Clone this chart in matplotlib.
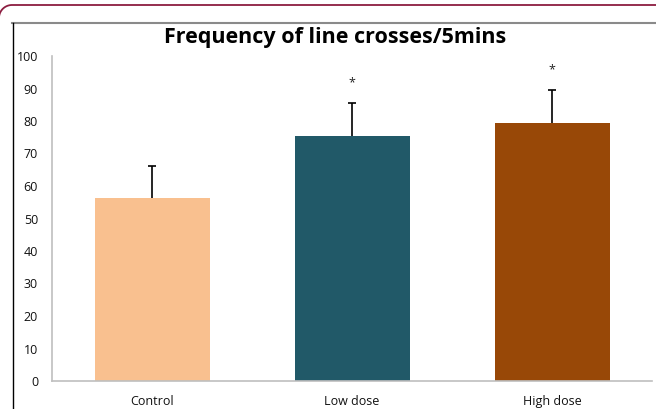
import matplotlib
matplotlib.use('Agg')
import numpy as np
import matplotlib.pyplot as plt
from matplotlib.lines import Line2D

# Line crosses per 5 minutes, mean and error for each group
groups = ['Control', 'Low dose', 'High dose']
means = [56.3, 75.4, 79.4]
errors = [10, 10, 10]
marks = ['', '*', '*']
colors = ['#F9C08F', '#215968', '#984807']

W, H = 656, 409
fig = plt.figure(figsize=(W / 100, H / 100), dpi=100)
plt.rcParams['font.family'] = ['Open Sans', 'DejaVu Sans']

def px(xs, ys):
    # pixel positions (from top-left) to figure fractions
    return [v / W for v in xs], [1 - v / H for v in ys]

# outer border: top edge with a rounded top-left corner running off the left side
t = np.linspace(np.pi, 1.5 * np.pi, 30)
r = 13
cx, cy = 12, 18
arc_x = list(cx + r * np.cos(t)) + [W + 5]
arc_y = list(cy + r * np.sin(t)) + [cy - r]
fx, fy = px(arc_x, arc_y)
fig.lines.append(Line2D(fx, fy, transform=fig.transFigure,
                        color='#8C1D40', lw=1.3))

# inner chart frame
fx, fy = px([12, W], [22.5, 22.5])
fig.lines.append(Line2D(fx, fy, transform=fig.transFigure, color='#8a8a8a', lw=1.5))
fx, fy = px([12.5, 12.5], [22.5, H])
fig.lines.append(Line2D(fx, fy, transform=fig.transFigure, color='black', lw=1))

ax = fig.add_axes([52 / W, (H - 381) / H, 600 / W, (381 - 56) / H])
x = list(range(len(groups)))
ax.bar(x, means, width=0.575, color=colors, zorder=2)

# upper error bars only, with a cap on top
tops = [m + e for m, e in zip(means, errors)]
ax.vlines(x, means, tops, color='black', lw=1.2, zorder=3)
ax.hlines(tops, [i - 0.022 for i in x], [i + 0.022 for i in x],
          color='black', lw=1.2, zorder=3)
for i, m in enumerate(marks):
    if m:
        ax.text(i, tops[i] + 4.5, m, ha='center', va='bottom',
                fontsize=9, color='#222222')

ax.set_xlim(-0.5, 2.5)
ax.set_ylim(0, 100)
ax.set_yticks(range(0, 101, 10))
ax.set_xticks(x)
ax.set_xticklabels(groups)
ax.tick_params(length=0, labelsize=9, colors='#111111')
ax.tick_params(axis='y', pad=10)
ax.tick_params(axis='x', pad=10)
for s in ['top', 'right']:
    ax.spines[s].set_visible(False)
for s in ['left', 'bottom']:
    ax.spines[s].set_color('#BFBFBF')
    ax.spines[s].set_linewidth(1.2)

fig.text(335 / W, 1 - 37 / H, 'Frequency of line crosses/5mins', ha='center',
         va='center', fontsize=15.5, fontweight='bold', color='black')

fig.savefig('out.png', dpi=100)
